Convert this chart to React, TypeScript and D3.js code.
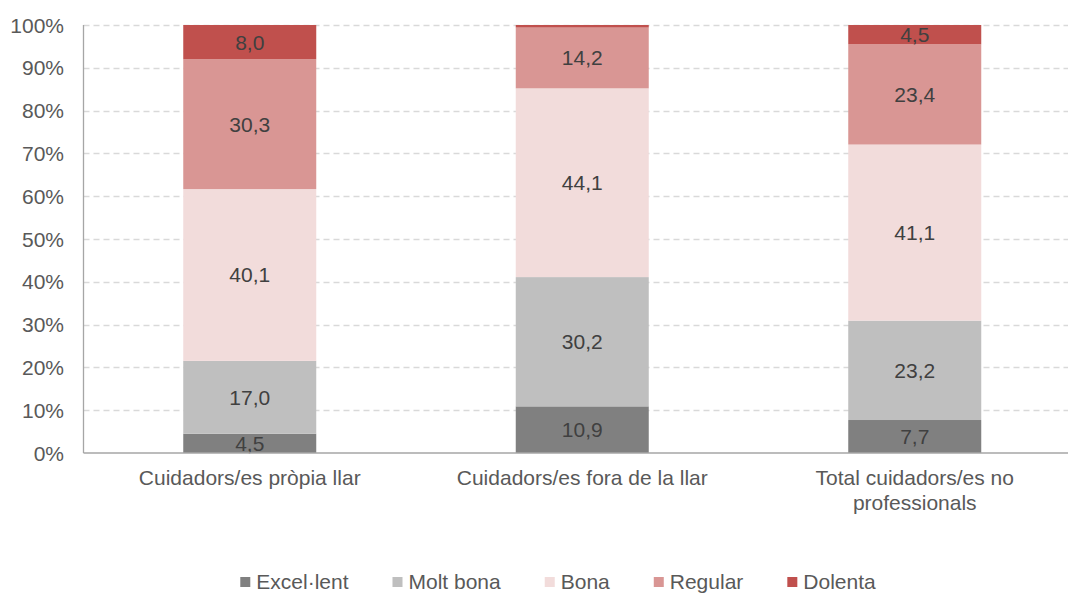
import React, { useEffect, useRef } from "react";
import * as d3 from "d3";

const categories = ["Cuidadors/es pròpia llar", "Cuidadors/es fora de la llar", "Total cuidadors/es no professionals"];
const categoryLines = [["Cuidadors/es pròpia llar"], ["Cuidadors/es fora de la llar"], ["Total cuidadors/es no", "professionals"]];
const seriesNames = ["Excel·lent", "Molt bona", "Bona", "Regular", "Dolenta"];
const excellent = [4.5, 10.9, 7.7];
const moltBona = [17.0, 30.2, 23.2];
const bona = [40.1, 44.1, 41.1];
const regular = [30.3, 14.2, 23.4];
const dolenta = [8.0, 0.6, 4.5];
const showLabel = [[true, true, true], [true, true, true], [true, true, true], [true, true, true], [true, false, true]];
const colors = ["#808080", "#BFBFBF", "#F2DCDB", "#D99694", "#C0504D"];
const yTicks = [0, 10, 20, 30, 40, 50, 60, 70, 80, 90, 100];

export default function App() {
  const ref = useRef<SVGSVGElement>(null);
  useEffect(() => {
    document.body.style.margin = "0";
    const svg = d3.select(ref.current);
    svg.selectAll("*").remove();
    const font = "'Liberation Sans', Arial, sans-serif";
    const fs = 21;
    const left = 83.5, top = 25, bottom = 453;
    const bandW = 332.5;
    const x = d3.scaleBand<string>().domain(categories).range([left, left + bandW * 3]).paddingInner(0.6).paddingOuter(0.3);
    const y = d3.scaleLinear().domain([0, 100]).range([bottom, top]);
    const series = [excellent, moltBona, bona, regular, dolenta];

    // gridlines
    svg.append("g").selectAll("line").data(yTicks.filter(t => t > 0)).join("line")
      .attr("x1", left).attr("x2", 1068).attr("y1", d => Math.round(y(d)) + 0.5).attr("y2", d => Math.round(y(d)) + 0.5)
      .attr("stroke", "#D9D9D9").attr("stroke-width", 1.3).attr("stroke-dasharray", "6,4");

    // stacked bars
    categories.forEach((c, ci) => {
      const total = d3.sum(series, s => s[ci]);
      let acc = 0;
      series.forEach((s, si) => {
        const v0 = acc / total * 100;
        acc += s[ci];
        const v1 = acc / total * 100;
        svg.append("rect")
          .attr("x", x(c)!).attr("width", x.bandwidth())
          .attr("y", y(v1)).attr("height", y(v0) - y(v1))
          .attr("fill", colors[si]);
        if (showLabel[si][ci]) {
          svg.append("text")
            .attr("x", x(c)! + x.bandwidth() / 2).attr("y", (y(v0) + y(v1)) / 2 + 7.5)
            .attr("text-anchor", "middle").attr("font-family", font).attr("font-size", fs)
            .attr("fill", "#404040").text(s[ci].toFixed(1).replace(".", ","));
        }
      });
    });

    // axes lines
    svg.append("line").attr("x1", left).attr("x2", left).attr("y1", top).attr("y2", bottom)
      .attr("stroke", "#A6A6A6").attr("stroke-width", 1.3);
    svg.append("line").attr("x1", left).attr("x2", 1068).attr("y1", bottom).attr("y2", bottom)
      .attr("stroke", "#A6A6A6").attr("stroke-width", 1.3);

    // y tick labels
    svg.append("g").selectAll("text").data(yTicks).join("text")
      .attr("x", 64).attr("y", d => y(d) + 7.5).attr("text-anchor", "end")
      .attr("font-family", font).attr("font-size", fs).attr("fill", "#595959")
      .text(d => d + "%");

    // category labels
    categories.forEach((c, ci) => {
      const t = svg.append("text").attr("text-anchor", "middle").attr("font-family", font)
        .attr("font-size", fs).attr("fill", "#595959");
      categoryLines[ci].forEach((ln, li) => {
        t.append("tspan").attr("x", x(c)! + x.bandwidth() / 2).attr("y", 485 + li * 24.5).text(ln);
      });
    });

    // legend
    const lg = svg.append("g");
    const items = seriesNames.map((n, i) => {
      const g = lg.append("g");
      g.append("rect").attr("x", 0).attr("y", -12).attr("width", 10).attr("height", 10).attr("fill", colors[i]);
      const t = g.append("text").attr("x", 16).attr("y", 0).attr("font-family", font)
        .attr("font-size", fs).attr("fill", "#595959").text(n);
      const w = 16 + (t.node() as SVGTextElement).getComputedTextLength();
      return { g, w };
    });
    const gap = 44;
    const totalW = d3.sum(items, d => d.w) + gap * (items.length - 1);
    let cx = 558 - totalW / 2;
    items.forEach(it => {
      it.g.attr("transform", `translate(${cx},589)`);
      cx += it.w + gap;
    });
  }, []);
  return <svg ref={ref} width={1068} height={595} style={{ display: "block", background: "#fff" }} />;
}
